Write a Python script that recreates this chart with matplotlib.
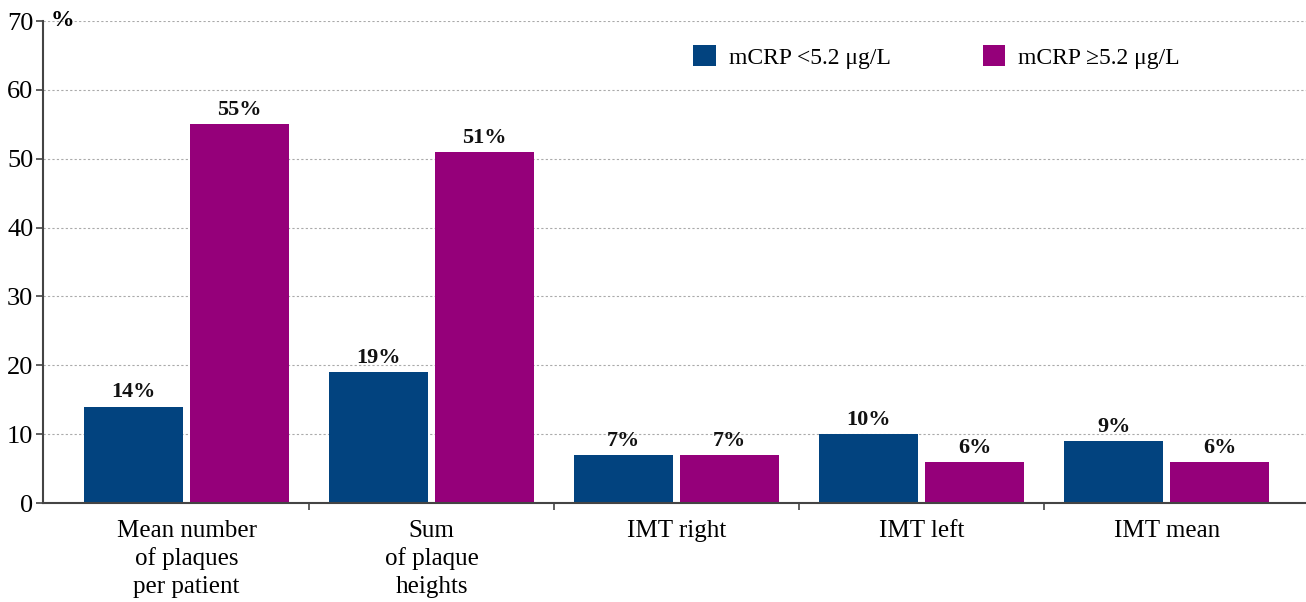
import numpy as np
import matplotlib
matplotlib.use("Agg")
from matplotlib import pyplot as plt
from matplotlib.patches import Patch

plt.rcParams['font.family'] = ['Liberation Serif', 'DejaVu Serif']

categories = ["Mean number\nof plaques\nper patient", "Sum\nof plaque\nheights",
              "IMT right", "IMT left", "IMT mean"]
low_crp = [14, 19, 7, 10, 9]
high_crp = [55, 51, 7, 6, 6]
series_names = ["mCRP <5.2 \u03bcg/L", "mCRP \u22655.2 \u03bcg/L"]

blue = "#02437f"
magenta = "#95007a"

fig = plt.figure(figsize=(13.06, 6.02), dpi=100)
ax = fig.add_axes([43/1306, 99/602, 1 - 43/1306, (503-21)/602])

x = np.arange(len(categories))
w = 0.404
off = 0.216
b1 = ax.bar(x - off, low_crp, w, color=blue, zorder=3)
b2 = ax.bar(x + off, high_crp, w, color=magenta, zorder=3)

for bars, vals in ((b1, low_crp), (b2, high_crp)):
    for b, v in zip(bars, vals):
        ax.text(b.get_x() + b.get_width()/2, v + 0.6, "%d%%" % v, ha='center', va='bottom',
                fontsize=16, fontweight='bold', color='#111111')

ax.set_xlim(-0.586, 4.569)
ax.set_ylim(0, 70)
ax.set_yticks(np.arange(0, 71, 10))
ax.yaxis.grid(True, linestyle=(0, (2, 2)), color='#aaaaaa', linewidth=0.8)
ax.set_axisbelow(True)

ax.set_xticks(x)
ax.set_xticklabels(categories, fontsize=18, linespacing=1.32, va='top')
ax.set_xticks(np.arange(0.5, 4.0, 1.0), minor=True)
ax.tick_params(axis='x', which='major', length=0, pad=12)
ax.tick_params(axis='x', which='minor', length=5, width=1.2, color='#444444', direction='out')
ax.tick_params(axis='y', length=5, width=1.2, color='#444444', labelsize=19, pad=2)

for s in ('top', 'right'):
    ax.spines[s].set_visible(False)
ax.spines['left'].set_color('#444444')
ax.spines['left'].set_linewidth(1.5)
ax.spines['bottom'].set_color('#444444')
ax.spines['bottom'].set_linewidth(1.5)
ax.spines['bottom'].set_zorder(4)

ax.annotate("%", xy=(0, 70), xycoords=('axes fraction', 'data'), xytext=(8, 0),
            textcoords='offset pixels', fontsize=17, fontweight='bold', ha='left', va='center')

handles = [Patch(facecolor=blue), Patch(facecolor=magenta)]
ax.legend(handles, series_names, ncol=2, frameon=False, fontsize=17,
          handlelength=0.95, handleheight=0.95, handletextpad=0.55, columnspacing=3.9,
          loc='upper left', bbox_to_anchor=((672-43)/1263, (503-24)/482))

fig.savefig("out.png", dpi=100)
